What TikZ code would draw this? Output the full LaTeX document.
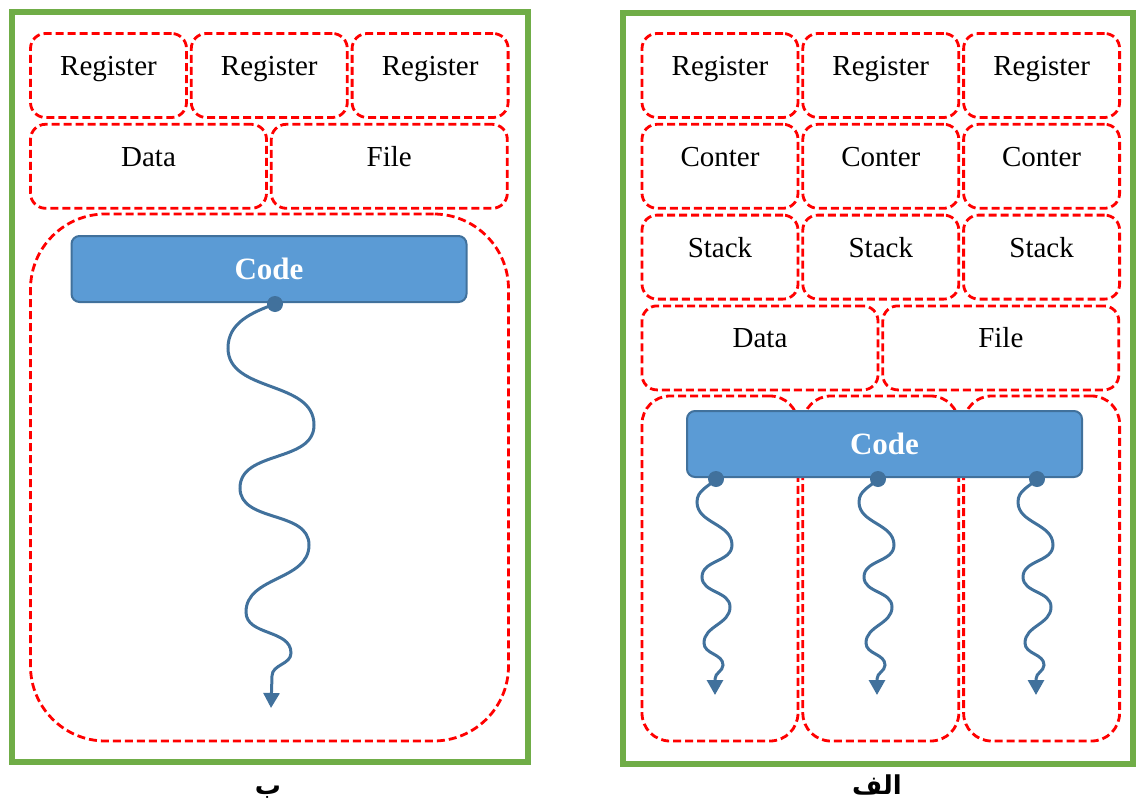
\documentclass[tikz,border=0pt]{standalone}
\usepackage{fontspec}
\setmainfont{Liberation Serif}
\newfontfamily\arabicfont[Script=Arabic]{DejaVu Sans}
\TeXXeTstate=1
\usepackage{tikz}
\usetikzlibrary{arrows.meta}
\usetikzlibrary{positioning}
\definecolor{frame}{HTML}{70AD47}
\definecolor{codefill}{HTML}{5B9BD5}
\definecolor{codeline}{HTML}{41719C}

\begin{document}
\begin{tikzpicture}[x = 1pt, y = 1pt, node distance = 2pt,
	cell/.style = {draw = red, line width = 2.8pt, dash pattern = on 8pt off 4pt, rounded corners = 15pt, minimum width = 156pt, minimum height = 84pt, text height = 20pt, text depth = 20pt, font = \fontsize{29}{32}\selectfont},
	wide/.style = {cell, minimum width = 236pt},
	lane/.style = {cell, minimum height = 345pt, rounded corners = 28pt},
	code/.style = {draw = codeline, fill = codefill, line width = 2pt, rounded corners = 8pt, minimum width = 395pt, minimum height = 66pt, text = white, font = \bfseries\fontsize{31}{34}\selectfont},
	dot/.style = {circle, fill = codeline, inner sep = 0pt, minimum size = 16pt},
	thread/.style = {draw = codeline, line width = 3pt, -{Triangle[width = 16pt, length = 15pt]}},
	panel/.style = {draw = frame, line width = 6pt},
	tag/.style = {font = \arabicfont\bfseries\fontsize{26}{28}\selectfont, anchor = base}]
	\useasboundingbox (0,0) rectangle (1138,-803);

	% left: one process, one thread
	\node[panel, minimum width = 516pt, minimum height = 749.5pt] (panelB) at (269.5,-386.75) {};
	\node[cell] (regB1) at (108.5,-75.5) {Register};
	\node[cell] (regB2) [right = of regB1] {Register};
	\node[cell] (regB3) [right = of regB2] {Register};
	\node[wide] (dataB) [below right = 4pt and 0pt of regB1.south west] {Data};
	\node[wide] (fileB) [right = of dataB] {File};
	\node[cell, minimum width = 478pt, minimum height = 527pt, rounded corners = 75pt] (procB) at (269.5,-477.5) {};
	\node[code] (codeB) at (269,-269) {Code};
	\node[dot] (dB) at (275,-304) {};
	\coordinate (eB) at (271,-708);
	\draw[thread] (dB.center) to[out = 200, in = 90] (228,-348) to[out = -90, in = 90] (314,-425)
		to[out = -90, in = 90] (240,-488) to[out = -90, in = 90] (309,-545)
		to[out = -90, in = 90] (246,-612) to[out = -90, in = 90] (291,-653)
		to[out = -90, in = 90] (272,-676) -- (eB);
	\node[tag] (labB) at (268,-794) {\beginR ب\endR};

	% right: one process, three threads
	\node[panel, minimum width = 510pt, minimum height = 750.5pt] (panelA) at (878,-388.25) {};
	\node[cell] (regA1) at (720,-75.5) {Register};
	\node[cell] (regA2) [right = of regA1] {Register};
	\node[cell] (regA3) [right = of regA2] {Register};
	\node[cell] (cntA1) [below = 4pt of regA1] {Conter};
	\node[cell] (cntA2) [right = of cntA1] {Conter};
	\node[cell] (cntA3) [right = of cntA2] {Conter};
	\node[cell] (stkA1) [below = 4pt of cntA1] {Stack};
	\node[cell] (stkA2) [right = of stkA1] {Stack};
	\node[cell] (stkA3) [right = of stkA2] {Stack};
	\node[wide] (dataA) [below right = 4pt and 0pt of stkA1.south west] {Data};
	\node[wide] (fileA) [right = of dataA] {File};
	\node[lane] (laneA1) at (720,-568.5) {};
	\node[lane] (laneA2) [right = of laneA1] {};
	\node[lane] (laneA3) [right = of laneA2] {};
	\node[code] (codeA) at (884.5,-444) {Code};
	\foreach \dx/\n in {0/1, 162/2, 321/3} {
		\node[dot] (dA\n) at (716+\dx,-479) {};
		\coordinate (eA\n) at (715+\dx,-695);
		\draw[thread] (dA\n.center) to[out = 225, in = 90] (697+\dx,-502) to[out = -90, in = 90] (732+\dx,-545)
			to[out = -90, in = 90] (702+\dx,-577) to[out = -90, in = 90] (730+\dx,-607)
			to[out = -90, in = 90] (704+\dx,-643) to[out = -90, in = 90] (723+\dx,-665)
			to[out = -90, in = 90] (715+\dx,-679) -- (eA\n);
	}
	\node[tag] (labA) at (877,-794) {\beginR الف\endR};
\end{tikzpicture}
\end{document}
